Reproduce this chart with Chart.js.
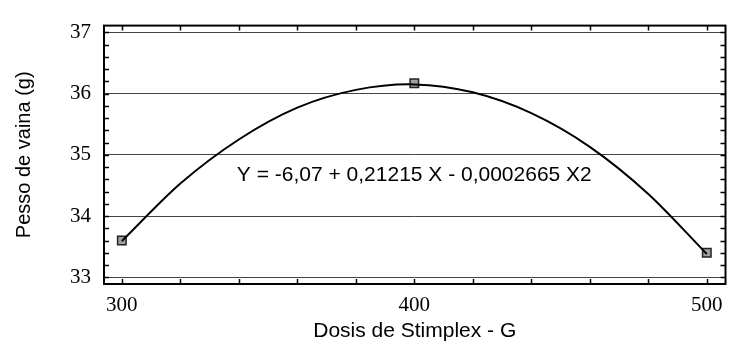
<!DOCTYPE html>
<html>
<head>
<meta charset="utf-8">
<script src="https://cdn.jsdelivr.net/npm/chart.js@4"></script>
<style>
  html, body { margin: 0; padding: 0; background: #fff; }
  #wrap { width: 733px; height: 344px; }
</style>
</head>
<body>
<div id="wrap"><canvas id="grafico"></canvas></div>
<script>
// dosis observadas y peso medio
const dosis = [300, 400, 500];
const peso = [33.6, 36.17, 33.4];

// curva ajustada
const curvaX = [300, 320, 340, 360, 380, 400, 420, 440, 460, 480, 500];
const curvaY = [33.59, 34.53, 35.25, 35.77, 36.06, 36.15, 36.02, 35.68, 35.13, 34.36, 33.38];

const ticksX = [300, 400, 500];
const ticksY = [33, 34, 35, 36, 37];
const ecuacion = 'Y = -6,07 + 0,21215 X - 0,0002665 X2';

// marco, marcas menores y texto de la ecuacion
const marcoPlugin = {
  id: 'marco',
  afterDatasetsDraw(chart) {
    const c = chart.ctx, a = chart.chartArea;
    const sx = chart.scales.x, sy = chart.scales.y;
    c.save();
    c.strokeStyle = '#000';
    c.lineWidth = 1.5;
    for (let v = 300; v <= 500; v += 20) {
      const px = Math.round(sx.getPixelForValue(v)) + 0.5;
      c.beginPath();
      c.moveTo(px, a.bottom); c.lineTo(px, a.bottom - 5);
      c.moveTo(px, a.top); c.lineTo(px, a.top + 5);
      c.stroke();
    }
    for (let i = 0; i <= 20; i++) {
      const v = 33 + i * 0.2;
      const py = Math.round(sy.getPixelForValue(v)) + 0.5;
      c.beginPath();
      c.moveTo(a.left, py); c.lineTo(a.left + 5, py);
      c.moveTo(a.right, py); c.lineTo(a.right - 5, py);
      c.stroke();
    }
    c.lineWidth = 2;
    c.strokeRect(a.left, a.top, a.right - a.left, a.bottom - a.top);
    c.fillStyle = '#000';
    c.font = '21px "Liberation Sans", Arial, sans-serif';
    c.textAlign = 'center';
    c.textBaseline = 'middle';
    c.fillText(ecuacion, sx.getPixelForValue(400), sy.getPixelForValue(34.67));
    c.restore();
  }
};

new Chart(document.getElementById('grafico'), {
  type: 'scatter',
  data: {
    datasets: [
      {
        label: 'curva',
        data: curvaX.map((x, i) => ({ x: x, y: curvaY[i] })),
        showLine: true,
        borderColor: '#000',
        borderWidth: 2,
        pointRadius: 0,
        tension: 0.3
      },
      {
        label: 'observado',
        data: dosis.map((x, i) => ({ x: x, y: peso[i] })),
        pointStyle: 'rect',
        pointRadius: 6,
        backgroundColor: '#a0a0a0',
        borderColor: '#222',
        borderWidth: 1.5
      }
    ]
  },
  options: {
    responsive: true,
    maintainAspectRatio: false,
    animation: false,
    layout: { padding: { top: 18, right: 1, left: 0, bottom: 0 } },
    plugins: { legend: { display: false }, tooltip: { enabled: false } },
    scales: {
      x: {
        type: 'linear',
        min: 293.9,
        max: 506.4,
        afterBuildTicks: s => { s.ticks = ticksX.map(v => ({ value: v })); },
        afterFit: s => { s.height = 60; },
        grid: { display: false, drawTicks: false },
        border: { display: false },
        ticks: {
          padding: 9,
          color: '#000',
          font: { family: '"Liberation Serif", "Times New Roman", serif', size: 21 }
        },
        title: {
          display: true,
          text: 'Dosis de Stimplex - G',
          color: '#000',
          padding: { top: 0, bottom: 0 },
          font: { family: '"Liberation Sans", Arial, sans-serif', size: 21 }
        }
      },
      y: {
        min: 32.89,
        max: 37.11,
        afterBuildTicks: s => { s.ticks = ticksY.map(v => ({ value: v })); },
        afterFit: s => { s.width = 104; },
        grid: { color: '#444', lineWidth: 1, drawTicks: false },
        border: { display: false },
        ticks: {
          padding: 13,
          color: '#000',
          font: { family: '"Liberation Serif", "Times New Roman", serif', size: 21 }
        },
        title: {
          display: true,
          text: 'Pesso de vaina (g)',
          color: '#000',
          padding: { top: 12, bottom: 0 },
          font: { family: '"Liberation Sans", Arial, sans-serif', size: 20 }
        }
      }
    }
  },
  plugins: [marcoPlugin]
});
</script>
</body>
</html>
